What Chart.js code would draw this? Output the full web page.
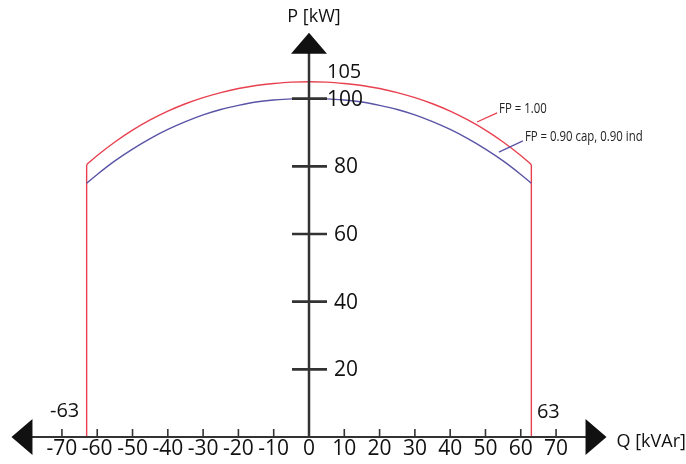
<!DOCTYPE html>
<html>
<head>
<meta charset="utf-8">
<script src="https://cdn.jsdelivr.net/npm/chart.js@4.4.1/dist/chart.umd.min.js"></script>
<style>
  html, body { margin: 0; padding: 0; background: #fff; }
  canvas { display: block; }
</style>
</head>
<body>
<canvas id="pq" width="686" height="464"></canvas>
<script>
// Q [kVAr] sample points of the capability curves
const qValues = [-63, -60, -55, -50, -45, -40, -35, -30, -25, -20, -15, -10, -5, 0,
  5, 10, 15, 20, 25, 30, 35, 40, 45, 50, 55, 60, 63];
// P [kW] for FP = 1.00 (red)
const pUnity = [80.5, 83.2, 87.2, 90.7, 93.7, 96.3, 98.5, 100.3, 101.8, 103, 103.9, 104.5, 104.9, 105,
  104.9, 104.5, 103.9, 103, 101.8, 100.3, 98.5, 96.3, 93.7, 90.7, 87.2, 83.2, 80.5];
// P [kW] for FP = 0.90 cap / 0.90 ind (blue)
const pNinety = [75, 77.6, 81.6, 85.1, 88.2, 90.9, 93.2, 95.2, 96.8, 98, 99, 99.6, 99.95, 100,
  99.95, 99.6, 99, 98, 96.8, 95.2, 93.2, 90.9, 88.2, 85.1, 81.6, 77.6, 75];
const qLimit = 63;

const xTicks = [-70, -60, -50, -40, -30, -20, -10, 0, 10, 20, 30, 40, 50, 60, 70];
const yTicks = [20, 40, 60, 80, 100];
const xAxisEnd = 84.3;
const yAxisEnd = 119.5;

// callouts: label text, leader line start/end in data units
const callouts = [
  { text: 'FP = 1.00', from: [47.6, 93.1], to: [53.3, 95.8], color: '#e8404f' },
  { text: 'FP = 0.90 cap, 0.90 ind', from: [53.8, 84.2], to: [60.6, 87.5], color: '#5a54a6' }
];

const RED = '#e8404f';
const BLUE = '#5a54a6';
const AXIS = '#333333';
const FONT = '"Open Sans", "DejaVu Sans", sans-serif';

const pts = (xs, ys) => xs.map((x, i) => ({ x, y: ys[i] }));

const axesPlugin = {
  id: 'pqAxes',
  afterDatasetsDraw(chart) {
    const { ctx } = chart;
    const xs = chart.scales.x, ys = chart.scales.y;
    const x0 = xs.getPixelForValue(0), y0 = ys.getPixelForValue(0);
    ctx.save();
    ctx.strokeStyle = AXIS;
    ctx.fillStyle = '#111';

    // horizontal axis
    const xl = xs.getPixelForValue(-xAxisEnd), xr = xs.getPixelForValue(xAxisEnd);
    ctx.lineWidth = 2;
    ctx.beginPath();
    ctx.moveTo(xl + 10, y0); ctx.lineTo(xr - 10, y0);
    ctx.stroke();
    // vertical axis
    const yt = ys.getPixelForValue(yAxisEnd);
    ctx.lineWidth = 2.5;
    ctx.beginPath();
    ctx.moveTo(x0, y0); ctx.lineTo(x0, yt + 10);
    ctx.stroke();

    // arrow heads
    ctx.beginPath();
    ctx.moveTo(xl, y0); ctx.lineTo(xl + 21, y0 - 18); ctx.lineTo(xl + 21, y0 + 18); ctx.closePath();
    ctx.moveTo(xr, y0); ctx.lineTo(xr - 21, y0 - 18); ctx.lineTo(xr - 21, y0 + 18); ctx.closePath();
    ctx.moveTo(x0, yt); ctx.lineTo(x0 - 18, yt + 21); ctx.lineTo(x0 + 18, yt + 21); ctx.closePath();
    ctx.fill();

    // x ticks (up from axis) + labels below
    ctx.lineWidth = 1.6;
    ctx.font = '21px ' + FONT;
    ctx.textAlign = 'center';
    ctx.textBaseline = 'top';
    xTicks.forEach(v => {
      const px = xs.getPixelForValue(v);
      if (v !== 0) {
        ctx.beginPath(); ctx.moveTo(px, y0 - 8); ctx.lineTo(px, y0); ctx.stroke();
      }
      ctx.fillText(String(v), px, y0 + 2);
    });

    // y ticks (across axis) + labels right
    ctx.lineWidth = 2.6;
    ctx.textAlign = 'left';
    ctx.textBaseline = 'middle';
    yTicks.forEach(v => {
      const py = ys.getPixelForValue(v);
      ctx.beginPath(); ctx.moveTo(x0 - 17, py); ctx.lineTo(x0 + 18, py); ctx.stroke();
      ctx.fillText(String(v), x0 + (v === 100 ? 18 : 25), py + 1);
    });

    // curve top value and Q limits
    ctx.font = '20px ' + FONT;
    ctx.fillText(String(Math.max(...pUnity)), x0 + 18, ys.getPixelForValue(Math.max(...pUnity)) - 9);
    ctx.textAlign = 'center';
    ctx.fillText(String(-qLimit), xs.getPixelForValue(-qLimit) - 22, y0 - 26);
    ctx.fillText(String(qLimit), xs.getPixelForValue(qLimit) + 17, y0 - 25);

    // axis titles
    ctx.font = '18px ' + FONT;
    ctx.fillText('P [kW]', x0 + 5, yt - 16);
    ctx.textAlign = 'left';
    ctx.fillText('Q [kVAr]', xr + 10, y0 + 5);

    // callouts
    ctx.lineWidth = 1.3;
    callouts.forEach(c => {
      const ax = xs.getPixelForValue(c.from[0]), ay = ys.getPixelForValue(c.from[1]);
      const bx = xs.getPixelForValue(c.to[0]), by = ys.getPixelForValue(c.to[1]);
      ctx.strokeStyle = c.color;
      ctx.beginPath(); ctx.moveTo(ax, ay); ctx.lineTo(bx, by); ctx.stroke();
      ctx.save();
      ctx.translate(bx + 2, by - 4);
      ctx.scale(0.76, 1);
      ctx.font = '15px ' + FONT;
      ctx.fillStyle = '#222';
      ctx.textBaseline = 'middle';
      ctx.fillText(c.text, 0, 0);
      ctx.restore();
    });
    ctx.restore();
  }
};

new Chart(document.getElementById('pq'), {
  type: 'scatter',
  data: {
    datasets: [
      { data: pts(qValues, pUnity), borderColor: RED, showLine: true, cubicInterpolationMode: 'monotone' },
      { data: pts(qValues, pNinety), borderColor: BLUE, showLine: true, cubicInterpolationMode: 'monotone' },
      { data: [{ x: -qLimit, y: 0 }, { x: -qLimit, y: pUnity[0] }], borderColor: RED, showLine: true },
      { data: [{ x: qLimit, y: 0 }, { x: qLimit, y: pUnity[pUnity.length - 1] }], borderColor: RED, showLine: true }
    ]
  },
  options: {
    responsive: false,
    animation: false,
    devicePixelRatio: 1,
    layout: { padding: { left: 9, right: 77, top: 31, bottom: 27 } },
    elements: { point: { radius: 0 }, line: { borderWidth: 1.4 } },
    plugins: { legend: { display: false }, tooltip: { enabled: false } },
    scales: {
      x: { type: 'linear', min: -85, max: 85, display: false },
      y: { type: 'linear', min: 0, max: 120, display: false }
    }
  },
  plugins: [axesPlugin]
});
</script>
</body>
</html>
